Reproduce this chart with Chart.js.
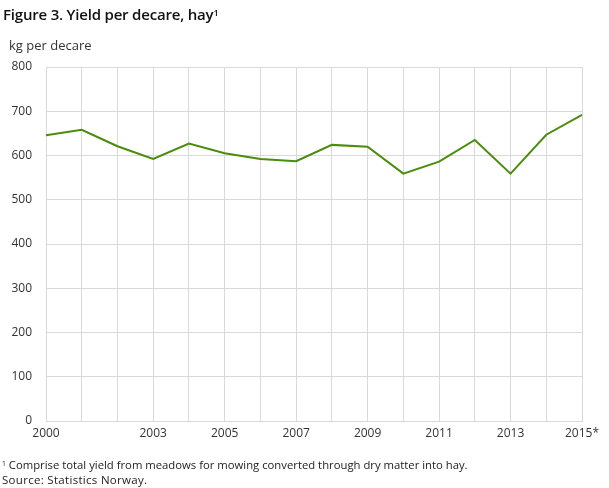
<!DOCTYPE html>
<html>
<head>
<meta charset="utf-8">
<script src="https://cdn.jsdelivr.net/npm/chart.js@4"></script>
<style>
  html, body { margin: 0; padding: 0; background: #fff; }
  body { width: 609px; height: 488px; position: relative; overflow: hidden; font-family: "Open Sans", sans-serif; color: #222; }
  #c { position: absolute; left: 0; top: 0; }
  .t { position: absolute; white-space: nowrap; }
  #title { left: 3px; top: 4px; font-size: 15px; font-weight: 600; color: #111; letter-spacing: -0.2px; }
  #unit { left: 9px; top: 36px; font-size: 13px; color: #333; }
  #note { left: 2px; top: 457px; font-size: 11.3px; color: #222; }
  #src { left: 2px; top: 472px; font-size: 11.5px; color: #222; letter-spacing: 0.3px; }
  sup { font-size: 0.6em; vertical-align: 0.45em; line-height: 0; }
</style>
</head>
<body>
<canvas id="c" width="609" height="488"></canvas>
<div class="t" id="title">Figure 3. Yield per decare, hay<sup>1</sup></div>
<div class="t" id="unit">kg per decare</div>
<div class="t" id="note"><sup>1</sup> Comprise total yield from meadows for mowing converted through dry matter into hay.</div>
<div class="t" id="src">Source: Statistics Norway.</div>
<script>
const years = ['2000','2001','2002','2003','2004','2005','2006','2007','2008','2009','2010','2011','2012','2013','2014','2015*'];
const shownYears = ['2000','2003','2005','2007','2009','2011','2013','2015*'];
const yieldValues = [646, 658, 621, 592, 627, 605, 592, 587, 624, 620, 559, 586, 635, 559, 647, 692];
const yTicks = [0, 100, 200, 300, 400, 500, 600, 700, 800];

const gridColor = '#d9d9d9';
new Chart(document.getElementById('c'), {
  type: 'line',
  data: {
    labels: years,
    datasets: [{
      data: yieldValues,
      borderColor: '#4a8c0c',
      borderWidth: 2,
      pointRadius: 0,
      tension: 0,
      fill: false
    }]
  },
  options: {
    responsive: false,
    animation: false,
    devicePixelRatio: 1,
    layout: { padding: { left: 0, top: 67, right: 27, bottom: 0 } },
    plugins: { legend: { display: false }, tooltip: { enabled: false } },
    scales: {
      x: {
        grid: { color: gridColor, drawTicks: false },
        border: { color: gridColor },
        ticks: {
          autoSkip: false, maxRotation: 0, padding: 5,
          color: '#333', font: { family: 'Open Sans', size: 12 },
          callback: function(v, i) { const l = years[i]; return shownYears.includes(l) ? l : ''; }
        },
        afterFit: s => { s.height = 67; }
      },
      y: {
        min: 0, max: 800,
        grid: { color: gridColor, drawTicks: false },
        border: { display: false },
        afterBuildTicks: s => { s.ticks = yTicks.map(v => ({ value: v })); },
        ticks: { padding: 14, color: '#333', font: { family: 'Open Sans', size: 12 } },
        afterFit: s => { s.width = 46; }
      }
    }
  }
});
</script>
</body>
</html>
